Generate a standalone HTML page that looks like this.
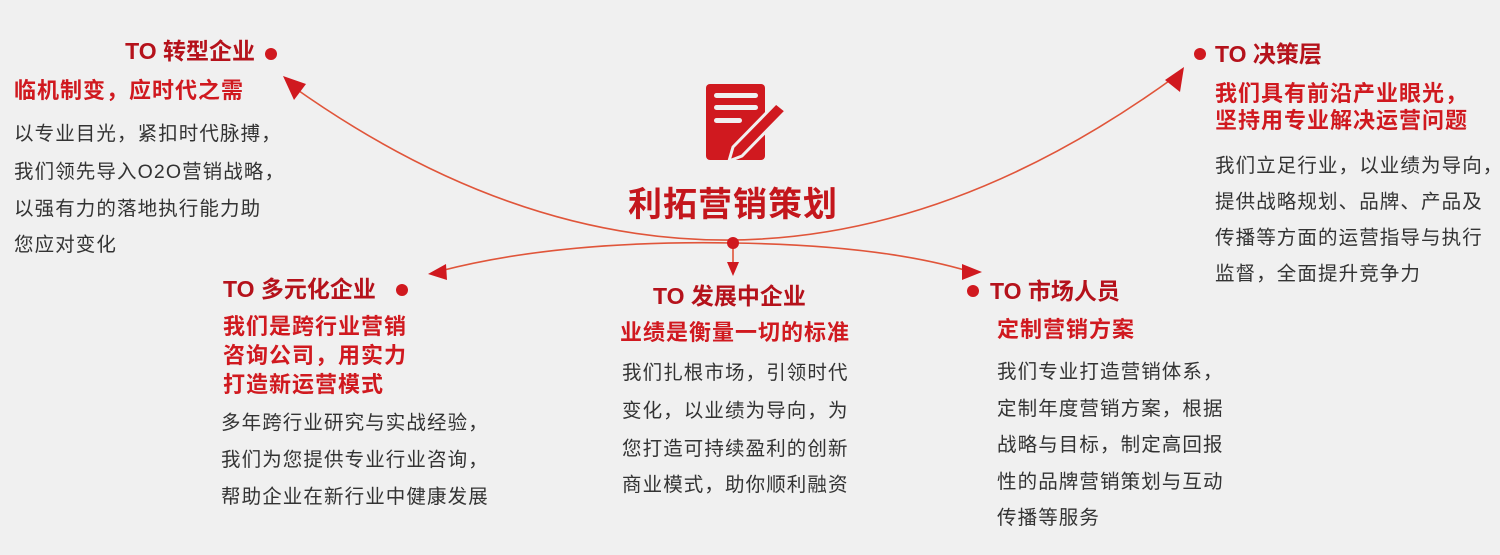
<!DOCTYPE html>
<html><head><meta charset="utf-8"><style>
html,body{margin:0;padding:0;background:#f0f0f0;}
svg{display:block}
text{font-family:"Liberation Sans","Noto Sans CJK SC",sans-serif;}
.h{font-weight:bold;font-size:23px;fill:#b5121b;}
.s{font-weight:bold;font-size:22px;fill:#d0191f;letter-spacing:1px}
.b{font-size:19.5px;fill:#333;letter-spacing:1.1px}
</style></head><body>
<svg width="1500" height="555" viewBox="0 0 1500 555" xmlns="http://www.w3.org/2000/svg">
<g fill="none" stroke="#e0553a" stroke-width="1.6">
<path d="M292,86 Q732,399 1176,76"/>
<path d="M733,243 Q560,240 440,271"/>
<path d="M733,243 Q880,245 968,271"/>
<path d="M733,243 L733,266"/>
</g>
<path d="M283,76 L306,84 L294,100 z" fill="#d0191f"/>
<path d="M1184,67 L1180,92 L1165,80 z" fill="#d0191f"/>
<path d="M428,274 L446,264 L447,280 z" fill="#d0191f"/>
<path d="M982,272 L962,264 L962,280 z" fill="#d0191f"/>
<path d="M727,262 L739,262 L733,276 z" fill="#d0191f"/>
<circle cx="733" cy="243" r="6" fill="#d0191f"/>
<rect x="706" y="84" width="59" height="76" rx="4" fill="#d0191f"/>
<rect x="714" y="93" width="44" height="5" rx="2.5" fill="#f0f0f0"/>
<rect x="714" y="105" width="44" height="5" rx="2.5" fill="#f0f0f0"/>
<rect x="714" y="118" width="28" height="5" rx="2.5" fill="#f0f0f0"/>
<path d="M776,103 L786,111 L742,156 L729,161 L733,147 z" fill="#d0191f" stroke="#f0f0f0" stroke-width="3"/>
<text x="733" y="216" text-anchor="middle" style="font-weight:bold;font-size:34px;fill:#c4161c;letter-spacing:1px">利拓营销策划</text>
<circle cx="271" cy="54" r="6" fill="#d0191f"/>
<circle cx="1200" cy="54" r="6" fill="#d0191f"/>
<circle cx="402" cy="290" r="6" fill="#d0191f"/>
<circle cx="973" cy="291" r="6" fill="#d0191f"/>
<text class="h" x="255" y="59" text-anchor="end">TO 转型企业</text>
<text class="s" x="14" y="98">临机制变，应时代之需</text>
<text class="b" x="14" y="140">以专业目光，紧扣时代脉搏，</text>
<text class="b" x="14" y="178">我们领先导入O2O营销战略，</text>
<text class="b" x="14" y="215">以强有力的落地执行能力助</text>
<text class="b" x="14" y="251">您应对变化</text>
<text class="h" x="1215" y="62">TO 决策层</text>
<text class="s" x="1215" y="101">我们具有前沿产业眼光，</text>
<text class="s" x="1215" y="128">坚持用专业解决运营问题</text>
<text class="b" x="1215" y="172">我们立足行业，以业绩为导向，</text>
<text class="b" x="1215" y="208">提供战略规划、品牌、产品及</text>
<text class="b" x="1215" y="244">传播等方面的运营指导与执行</text>
<text class="b" x="1215" y="280">监督，全面提升竞争力</text>
<text class="h" x="223" y="297">TO 多元化企业</text>
<text class="s" x="223" y="334">我们是跨行业营销</text>
<text class="s" x="223" y="363">咨询公司，用实力</text>
<text class="s" x="223" y="392">打造新运营模式</text>
<text class="b" x="221" y="429">多年跨行业研究与实战经验，</text>
<text class="b" x="221" y="466">我们为您提供专业行业咨询，</text>
<text class="b" x="221" y="503">帮助企业在新行业中健康发展</text>
<text class="h" x="653" y="304">TO 发展中企业</text>
<text class="s" x="620" y="340">业绩是衡量一切的标准</text>
<text class="b" x="622" y="379">我们扎根市场，引领时代</text>
<text class="b" x="622" y="417">变化，以业绩为导向，为</text>
<text class="b" x="622" y="455">您打造可持续盈利的创新</text>
<text class="b" x="622" y="491">商业模式，助你顺利融资</text>
<text class="h" x="990" y="299">TO 市场人员</text>
<text class="s" x="997" y="337">定制营销方案</text>
<text class="b" x="997" y="378">我们专业打造营销体系，</text>
<text class="b" x="997" y="415">定制年度营销方案，根据</text>
<text class="b" x="997" y="451">战略与目标，制定高回报</text>
<text class="b" x="997" y="488">性的品牌营销策划与互动</text>
<text class="b" x="997" y="524">传播等服务</text>
</svg>
</body></html>
